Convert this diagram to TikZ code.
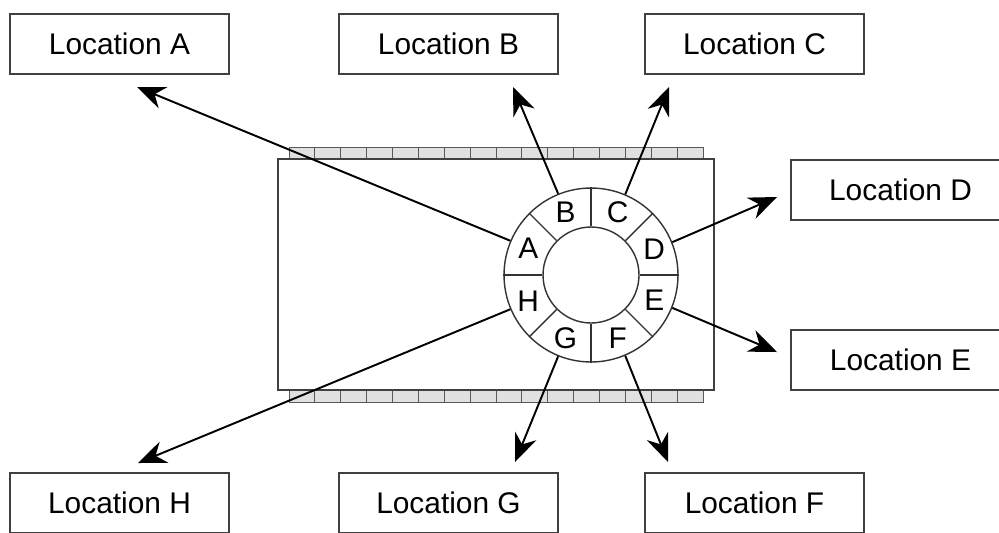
\documentclass[tikz,border=0pt]{standalone}
\usepackage{fontspec}
\setmainfont{Liberation Sans}
\usepackage{tikz}
\usetikzlibrary{arrows.meta,calc}

\begin{document}
\begin{tikzpicture}[>={Stealth[length=16pt,width=13pt]},x=0.02cm,y=-0.02cm]
\tikzstyle{place}=[draw=black!75,line width=0.9pt,minimum width=4.38cm,minimum height=1.2cm,inner sep=0pt,font=\fontsize{17}{20}\selectfont]
\tikzstyle{cell}=[fill=black!12,draw=black!65,line width=0.5pt]
\tikzstyle{ring}=[circle,draw=black!80,line width=0.8pt,inner sep=0pt]
\tikzstyle{link}=[->,line width=1.1pt]
\useasboundingbox (0,0) rectangle (999,532);

% the locations
\node[place] (LA) at (119.5,44)  {Location A};
\node[place] (LB) at (448.5,44)  {Location B};
\node[place] (LC) at (754.5,44)  {Location C};
\node[place] (LD) at (900.5,190) {Location D};
\node[place] (LE) at (900.5,360) {Location E};
\node[place] (LF) at (754.5,503) {Location F};
\node[place] (LG) at (448.5,503) {Location G};
\node[place] (LH) at (119.5,503) {Location H};

% tape and body
\foreach \i in {0,...,15}
{
  \draw[cell] (289+\i*25.875,147) rectangle ++(25.875,12);
  \draw[cell] (289+\i*25.875,390) rectangle ++(25.875,12);
}
\draw[draw=black!75,line width=0.8pt] (278,159) rectangle (714,390);

% the wheel
\node[ring,fill=white,minimum size=3.48cm] (drum) at (591,275) {};
\node[ring,minimum size=1.92cm] (hub) at (591,275) {};
\foreach \a in {0,45,...,315}
  \draw[draw=black!80,line width=0.8pt] (hub.\a) -- (drum.\a);
\foreach \a/\t in {157.5/A,112.5/B,67.5/C,22.5/D,-22.5/E,-67.5/F,-112.5/G,-157.5/H}
  \node[font=\fontsize{17}{20}\selectfont,inner sep=0pt] (s\t) at ($(hub.\a)!0.5!(drum.\a)$) {\t};

% arrow ends
\coordinate (tA) at (137,87);
\coordinate (tB) at (513,87);
\coordinate (tC) at (669,87);
\coordinate (tD) at (777,197);
\coordinate (tE) at (777,352);
\coordinate (tF) at (668,462);
\coordinate (tG) at (515,462);
\coordinate (tH) at (138,463);

\draw[link] (drum.157.5) -- (tA);
\draw[link] (drum.112.5) -- (tB);
\draw[link] (drum.67.5) -- (tC);
\draw[link] (drum.22.5) -- (tD);
\draw[link] (drum.-22.5) -- (tE);
\draw[link] (drum.-67.5) -- (tF);
\draw[link] (drum.-112.5) -- (tG);
\draw[link] (drum.-157.5) -- (tH);
\end{tikzpicture}
\end{document}
